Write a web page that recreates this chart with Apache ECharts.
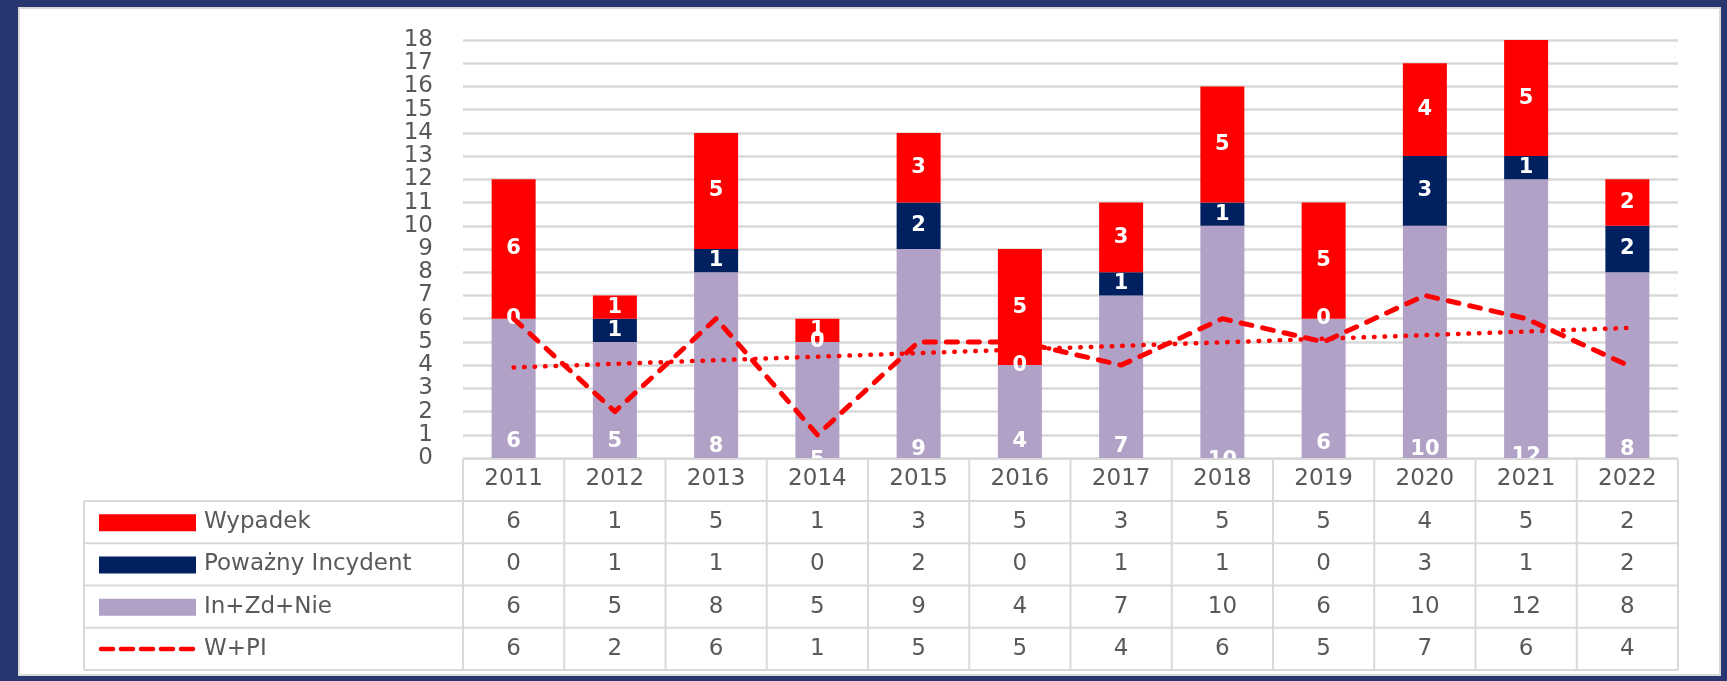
<!DOCTYPE html>
<html><head><meta charset="utf-8">
<script src="https://cdn.jsdelivr.net/npm/echarts@6/dist/echarts.min.js"></script>
<style>
html,body{margin:0;padding:0;background:#293770;width:1727px;height:681px;overflow:hidden}
#panel{position:absolute;left:18px;top:7px;width:1703px;height:669px;background:#fff;border:2px solid #d9d9d9;box-sizing:border-box}
#chart{position:absolute;left:0;top:0;width:1727px;height:681px}
</style></head><body><div id="panel"></div><div id="chart"></div>
<script>
// ---- data ----
const years = ['2011','2012','2013','2014','2015','2016','2017','2018','2019','2020','2021','2022'];
const wypadek = [6,1,5,1,3,5,3,5,5,4,5,2];
const powazny = [0,1,1,0,2,0,1,1,0,3,1,2];
const inZdNie = [6,5,8,5,9,4,7,10,6,10,12,8];
const wPI = [6,2,6,1,5,5,4,6,5,7,6,4];
const trendEnds = [3.9, 5.6];
const seriesNames = ['Wypadek','Poważny Incydent','In+Zd+Nie','W+PI'];

// ---- style ----
const RED = '#FF0000', NAVY = '#002060', LAV = '#B2A1C7', GRID = '#D9D9D9', TXT = '#595959';
const FONT = 'DejaVu Sans';
const purpleNudge = [-16,-16,-11,3,-8,-16,-11,3,-14,-8,-1,-8];
const barLabel = {show:true, color:'#fff', fontWeight:'bold', fontSize:21, fontFamily:FONT};

const chart = echarts.init(document.getElementById('chart'), null, {renderer:'canvas'});
chart.setOption({
  animation:false,
  backgroundColor:'transparent',
  grid:{left:463, right:49, top:40, bottom:223, containLabel:false},
  xAxis:{type:'category', data:years, z:200,
    axisLine:{show:false}, axisTick:{show:false}, splitLine:{show:false},
    axisLabel:{color:TXT, fontSize:23, fontFamily:FONT, margin:21, verticalAlign:'middle'}},
  yAxis:{type:'value', min:0, max:18, interval:1,
    axisLine:{show:false}, axisTick:{show:false},
    axisLabel:{color:TXT, fontSize:23, fontFamily:FONT, margin:30,
      showMinLabel:true, showMaxLabel:true},
    splitLine:{lineStyle:{color:GRID, width:2.5}}},
  series:[
    {name:seriesNames[2], type:'bar', stack:'s', barWidth:44, itemStyle:{color:LAV},
     label:Object.assign({}, barLabel, {position:['50%','100%'], align:'center', verticalAlign:'middle'}),
     data:inZdNie.map((v,i)=>({value:v, label:{offset:[0, purpleNudge[i]]}}))},
    {name:seriesNames[1], type:'bar', stack:'s', barWidth:44, itemStyle:{color:NAVY},
     label:Object.assign({}, barLabel, {position:'inside'}), data:powazny},
    {name:seriesNames[0], type:'bar', stack:'s', barWidth:44, itemStyle:{color:RED},
     label:Object.assign({}, barLabel, {position:'inside'}), data:wypadek},
    {name:seriesNames[3], type:'line', data:wPI, symbol:'none', z:5,
     lineStyle:{color:RED, width:5, type:[11,11], cap:'round', join:'round'}},
    {name:'trend', type:'line', data:[[0,trendEnds[0]],[years.length-1,trendEnds[1]]], symbol:'none', z:5,
     lineStyle:{color:RED, width:4.5, type:[0.5,10], cap:'round'}}
  ]
});

// ---- data table below the plot ----
const centers = years.map(y => chart.convertToPixel({xAxisIndex:0}, y));
const step = centers[1]-centers[0];
const bounds = [centers[0]-step/2].concat(centers.map(c => c+step/2));
const y0 = chart.convertToPixel({yAxisIndex:0}, 0) + 1;
const headerH = 42, rowH = 42.25, tableLeft = 84;
const rows = [wypadek, powazny, inZdNie, wPI];
const rowTop = i => y0 + headerH + i*rowH;
const tableBottom = rowTop(rows.length);
const els = [];
const line = (x1,y1,x2,y2) => els.push({type:'line', z:150, shape:{x1,y1,x2,y2}, style:{stroke:GRID, lineWidth:2}});
// white cover to clip bar labels below the axis
els.push({type:'rect', z:100, shape:{x:bounds[0], y:y0, width:bounds[12]-bounds[0], height:tableBottom-y0}, style:{fill:'#fff'}});
line(bounds[0], y0, bounds[12], y0);
for (let i=0;i<=rows.length;i++) line(tableLeft, rowTop(i), bounds[12], rowTop(i));
bounds.forEach(b => line(b, y0, b, tableBottom));
line(tableLeft, rowTop(0), tableLeft, tableBottom);
const swatchColors = [RED, NAVY, LAV];
rows.forEach((r,i) => {
  const cy = rowTop(i) + rowH/2;
  if (i < 3) {
    els.push({type:'rect', z:160, shape:{x:99, y:cy-8, width:97, height:17}, style:{fill:swatchColors[i]}});
  } else {
    els.push({type:'line', z:160, shape:{x1:101, y1:cy, x2:194, y2:cy}, style:{stroke:RED, lineWidth:4.5, lineDash:[12,8], lineCap:'round'}});
  }
  els.push({type:'text', z:160, style:{text:seriesNames[i], x:204, y:cy, fill:TXT, font:'23px "'+FONT+'"', textAlign:'left', textVerticalAlign:'middle', align:'left', verticalAlign:'middle'}});
  r.forEach((v,j) => {
    els.push({type:'text', z:160, style:{text:String(v), x:centers[j], y:cy, fill:TXT, font:'23px "'+FONT+'"', textAlign:'center', textVerticalAlign:'middle', align:'center', verticalAlign:'middle'}});
  });
});
chart.setOption({graphic:{elements:els}});
</script></body></html>
